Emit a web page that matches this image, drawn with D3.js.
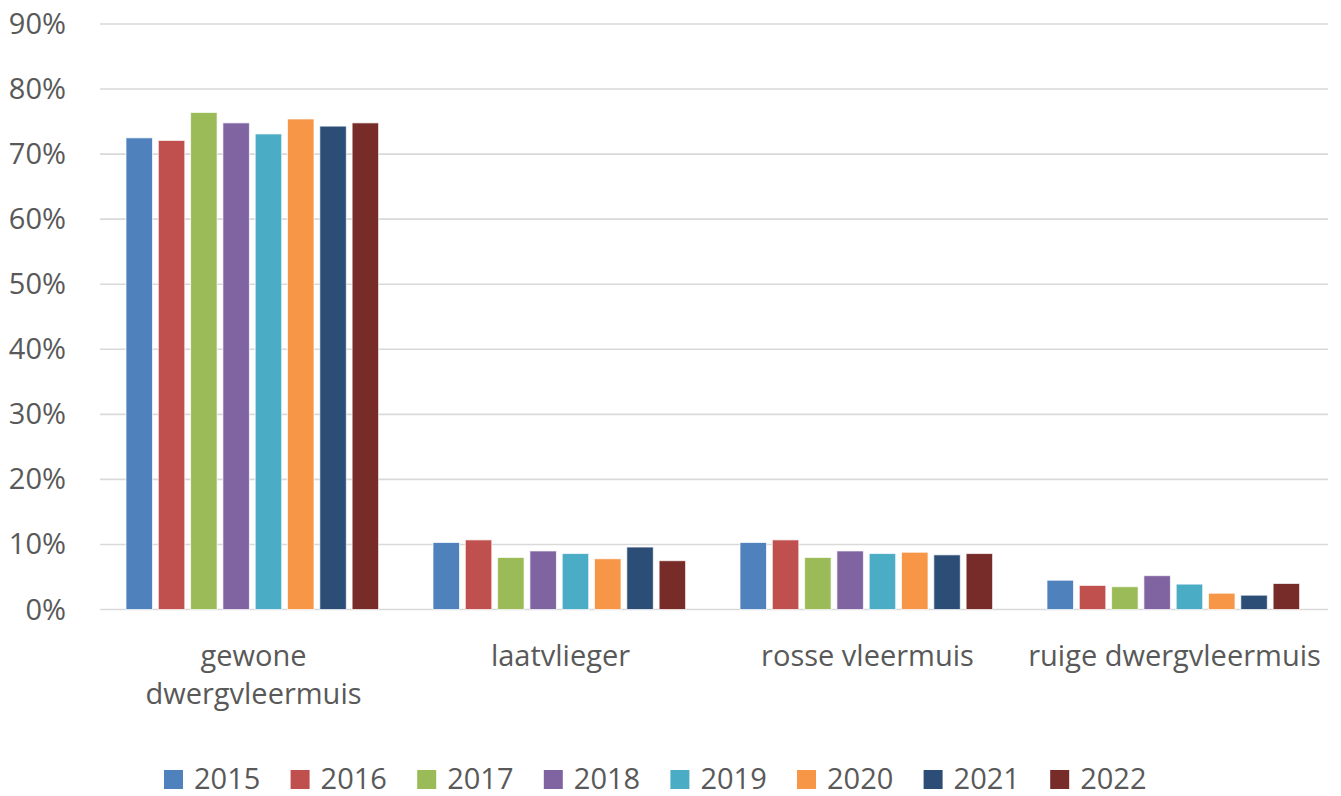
<!DOCTYPE html>
<html>
<head>
<meta charset="utf-8">
<script src="https://cdn.jsdelivr.net/npm/d3@7"></script>
<style>
  body { margin: 0; background: #fff; }
  text { font-family: "Open Sans", sans-serif; fill: #595959; }
</style>
</head>
<body>
<script>
const species = ["gewone dwergvleermuis", "laatvlieger", "rosse vleermuis", "ruige dwergvleermuis"];
const years = ["2015", "2016", "2017", "2018", "2019", "2020", "2021", "2022"];
const colors = ["#4F81BD", "#C0504D", "#9BBB59", "#8064A2", "#4BACC6", "#F79646", "#2C4D75", "#772C2A"];
// share per species (rows) per year (columns), in %
const gewone = [72.5, 72.1, 76.4, 74.8, 73.1, 75.4, 74.3, 74.8];
const laatvlieger = [10.3, 10.7, 8.0, 9.0, 8.6, 7.8, 9.6, 7.5];
const rosse = [10.3, 10.7, 8.0, 9.0, 8.6, 8.8, 8.4, 8.6];
const ruige = [4.5, 3.7, 3.5, 5.2, 3.9, 2.5, 2.2, 4.0];
const yTicks = [0, 10, 20, 30, 40, 50, 60, 70, 80, 90];

const values = [gewone, laatvlieger, rosse, ruige];

const width = 1341, height = 796;
const plotLeft = 100, plotRight = 1328, plotTop = 24, plotBottom = 609.5;

const svg = d3.select("body").append("svg")
    .attr("width", width)
    .attr("height", height);

const x0 = d3.scaleBand().domain(species).range([plotLeft, plotRight]).padding(0);
const x1 = d3.scaleBand().domain(years).range([26, 278.6]).paddingInner(0.18);
const y = d3.scaleLinear().domain([0, 90]).range([plotBottom, plotTop]);

// gridlines
svg.append("g")
  .selectAll("line")
  .data(yTicks)
  .join("line")
    .attr("x1", plotLeft)
    .attr("x2", plotRight)
    .attr("y1", d => y(d))
    .attr("y2", d => y(d))
    .attr("stroke", "#d9d9d9")
    .attr("stroke-width", 1.6);

// y labels
svg.append("g")
  .selectAll("text")
  .data(yTicks)
  .join("text")
    .attr("x", 66)
    .attr("y", d => y(d) + 10)
    .attr("text-anchor", "end")
    .style("font-size", "29px")
    .text(d => d + "%");

// bars
const groups = svg.append("g")
  .selectAll("g")
  .data(species)
  .join("g")
    .attr("transform", d => `translate(${x0(d)},0)`);

groups.selectAll("rect")
  .data((d, i) => values[i].map((v, j) => ({year: years[j], value: v, color: colors[j]})))
  .join("rect")
    .attr("x", d => x1(d.year))
    .attr("width", x1.bandwidth())
    .attr("y", d => y(d.value))
    .attr("height", d => y(0) - y(d.value))
    .attr("fill", d => d.color)
    .attr("stroke", "#ffffff")
    .attr("stroke-opacity", 0.7)
    .attr("stroke-width", 1);

// category labels
const catLabels = svg.append("g")
  .selectAll("text")
  .data(species)
  .join("text")
    .attr("text-anchor", "middle")
    .attr("x", d => x0(d) + x0.bandwidth() / 2)
    .attr("y", 666)
    .style("font-size", "29px");

catLabels.each(function(d) {
  const t = d3.select(this);
  const lines = d === "gewone dwergvleermuis" ? ["gewone", "dwergvleermuis"] : [d];
  lines.forEach((l, i) => {
    t.append("tspan")
      .attr("x", x0(d) + x0.bandwidth() / 2)
      .attr("dy", i === 0 ? 0 : 38)
      .text(l);
  });
});

// legend
const legend = svg.append("g")
  .selectAll("g")
  .data(years)
  .join("g")
    .attr("transform", (d, i) => `translate(${164 + i * 126.6},770)`);

legend.append("rect")
  .attr("width", 19)
  .attr("height", 19)
  .attr("fill", (d, i) => colors[i]);

legend.append("text")
  .attr("x", 30)
  .attr("y", 19)
  .style("font-size", "29px")
  .text(d => d);
</script>
</body>
</html>
